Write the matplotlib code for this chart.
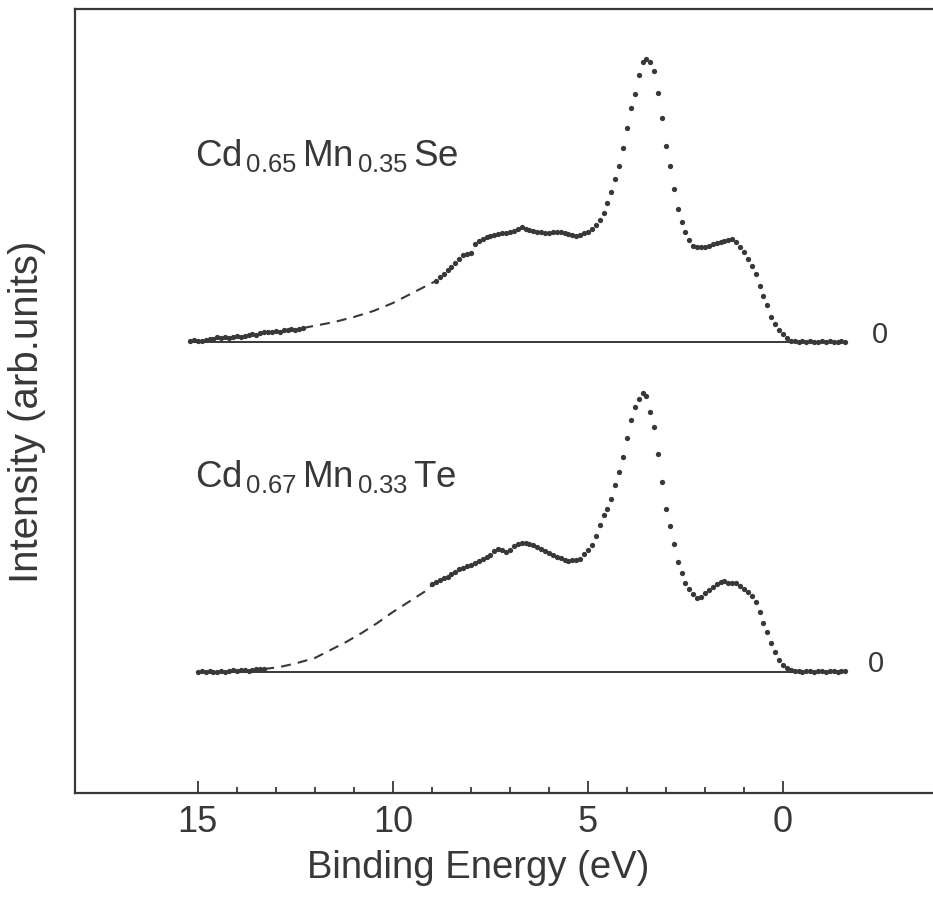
import numpy as np
import matplotlib
matplotlib.use("Agg")
import matplotlib.pyplot as plt
from matplotlib.ticker import FixedLocator

plt.rcParams['font.family'] = ['Liberation Sans', 'DejaVu Sans']
plt.rcParams['mathtext.fontset'] = 'custom'
plt.rcParams['mathtext.rm'] = 'Liberation Sans'
plt.rcParams['mathtext.it'] = 'Liberation Sans'

INK = '#383838'

# ---------------- Cd0.65Mn0.35Se -----------------
se_offset = 4.51
# low-energy-resolution tail (15.2 -> 12.3 eV, 0.1 eV step)
se_tail_start = 15.2
se_tail = [0.01, 0.02, 0.01, 0.01, 0.02, 0.03, 0.03, 0.05, 0.04, 0.05,
           0.04, 0.05, 0.06, 0.05, 0.06, 0.07, 0.08, 0.07, 0.09, 0.10,
           0.10, 0.10, 0.11, 0.10, 0.12, 0.12, 0.13, 0.12, 0.13, 0.14]
# extrapolated background (dashed)
se_dash_e = [12.3, 11.9, 11.5, 11.0, 10.5, 10.0, 9.5, 9.2, 8.9]
se_dash_i = [0.14, 0.17, 0.20, 0.25, 0.31, 0.39, 0.49, 0.55, 0.61]
# valence band (8.9 -> -1.6 eV, 0.1 eV step)
se_main_start = 8.9
se_main = [0.61, 0.65, 0.68, 0.72, 0.75, 0.79, 0.83, 0.87, 0.88, 0.89,
           0.98, 1.01, 1.03, 1.05, 1.06, 1.07, 1.08, 1.09, 1.09, 1.10,
           1.11, 1.13, 1.15, 1.13, 1.12, 1.11, 1.10, 1.10, 1.09, 1.09,
           1.10, 1.10, 1.10, 1.09, 1.08, 1.07, 1.06, 1.07, 1.09, 1.10,
           1.13, 1.17, 1.22, 1.29, 1.39, 1.50, 1.63, 1.76, 1.94, 2.14,
           2.34, 2.48, 2.67, 2.80, 2.83, 2.80, 2.71, 2.49, 2.24, 1.96,
           1.76, 1.53, 1.33, 1.20, 1.10, 1.02, 0.96, 0.95, 0.95, 0.95,
           0.96, 0.98, 0.99, 1.00, 1.01, 1.02, 1.03, 1.00, 0.95, 0.90,
           0.83, 0.76, 0.68, 0.56, 0.46, 0.37, 0.25, 0.18, 0.12, 0.08,
           0.04, 0.01, 0.01, 0.00, 0.01, 0.00, 0.01, 0.00, 0.00, 0.01,
           0.00, 0.01, 0.00, 0.00, 0.01, 0.00]
se_base = (15.2, -1.6)

# ---------------- Cd0.67Mn0.33Te -----------------
te_offset = 1.21
te_tail_start = 15.0
te_tail = [0.00, 0.01, 0.00, 0.01, 0.00, 0.00, 0.01, 0.00, 0.01, 0.02,
           0.01, 0.02, 0.02, 0.01, 0.02, 0.03, 0.03, 0.03]
te_dash_e = [13.3, 12.9, 12.5, 12.0, 11.6, 11.2, 10.8, 10.4, 10.0, 9.6, 9.2, 9.0]
te_dash_i = [0.03, 0.05, 0.085, 0.14, 0.22, 0.30, 0.39, 0.49, 0.60, 0.70, 0.80, 0.87]
te_main_start = 9.0
te_main = [0.88, 0.90, 0.92, 0.94, 0.95, 0.98, 1.00, 1.03, 1.04, 1.06,
           1.07, 1.09, 1.11, 1.13, 1.15, 1.17, 1.21, 1.23, 1.22, 1.20,
           1.22, 1.26, 1.28, 1.29, 1.29, 1.28, 1.27, 1.25, 1.23, 1.21,
           1.19, 1.17, 1.15, 1.14, 1.12, 1.11, 1.12, 1.12, 1.13, 1.18,
           1.22, 1.27, 1.36, 1.47, 1.57, 1.63, 1.73, 1.87, 2.00, 2.15,
           2.34, 2.52, 2.65, 2.73, 2.79, 2.76, 2.60, 2.45, 2.18, 1.90,
           1.63, 1.46, 1.28, 1.10, 0.99, 0.89, 0.83, 0.78, 0.74, 0.75,
           0.79, 0.82, 0.85, 0.88, 0.90, 0.91, 0.89, 0.89, 0.89, 0.86,
           0.83, 0.80, 0.76, 0.70, 0.60, 0.49, 0.40, 0.29, 0.20, 0.12,
           0.07, 0.04, 0.02, 0.01, 0.01, 0.00, 0.01, 0.01, 0.00, 0.01,
           0.01, 0.00, 0.01, 0.01, 0.00, 0.01, 0.01]
te_base = (15.03, -1.6)

STEP = 0.1
major_ticks = [15, 10, 5, 0]
minor_ticks = [14, 13, 12, 11, 9, 8, 7, 6, 4, 3, 2, 1]


def grid(start, n):
    return np.round(start - STEP * np.arange(n), 2)


fig = plt.figure(figsize=(9.33, 9.01), dpi=100)
ax = fig.add_axes([75 / 933, 108 / 901, 883.5 / 933, 784 / 901])
ax.set_xlim(18.15, -4.5)
ax.set_ylim(0, 7.84)

dot = dict(ls='none', marker='o', ms=3.8, mfc=INK, mec=INK, mew=0)
dash = dict(color=INK, lw=1.5, ls=(0, (4.8, 3.4)))

for off, tail0, tail, de, di, main0, main, base in [
        (se_offset, se_tail_start, se_tail, se_dash_e, se_dash_i,
         se_main_start, se_main, se_base),
        (te_offset, te_tail_start, te_tail, te_dash_e, te_dash_i,
         te_main_start, te_main, te_base)]:
    ax.plot(base, [off, off], color=INK, lw=1.4)
    ax.plot(grid(tail0, len(tail)), off + np.array(tail), **dot)
    ax.plot(de, off + np.array(di), **dash)
    ax.plot(grid(main0, len(main)), off + np.array(main), **dot)

ax.text(-2.49, se_offset + 0.07, '0', fontsize=21, color=INK, ha='center', va='center')
ax.text(-2.38, te_offset + 0.08, '0', fontsize=21, color=INK, ha='center', va='center')

ax.text(15.08, 6.27, r'$\mathrm{Cd}_{\,0.65}\,\mathrm{Mn}_{\,0.35}\,\mathrm{Se}$',
        fontsize=26.5, color=INK, ha='left', va='baseline')
ax.text(15.08, 3.06, r'$\mathrm{Cd}_{\,0.67}\,\mathrm{Mn}_{\,0.33}\,\mathrm{Te}$',
        fontsize=26.5, color=INK, ha='left', va='baseline')

for side in ['left', 'bottom', 'top', 'right']:
    ax.spines[side].set_color(INK)
    ax.spines[side].set_linewidth(1.6)

ax.set_yticks([])
ax.xaxis.set_major_locator(FixedLocator(major_ticks))
ax.xaxis.set_minor_locator(FixedLocator(minor_ticks))
ax.tick_params(axis='x', which='major', direction='in', length=9, width=1.3,
               color=INK, labelsize=26, labelcolor=INK, pad=9)
ax.tick_params(axis='x', which='minor', direction='in', length=4.5, width=1.3, color=INK)

fig.text(478 / 933, 1 - 868 / 901, 'Binding Energy (eV)', fontsize=27.5, color=INK,
         ha='center', va='center')
fig.text(27 / 933, 1 - 412 / 901, 'Intensity (arb.units)', fontsize=29, color=INK,
         ha='center', va='center', rotation=90)

fig.savefig('out.png', dpi=100)
